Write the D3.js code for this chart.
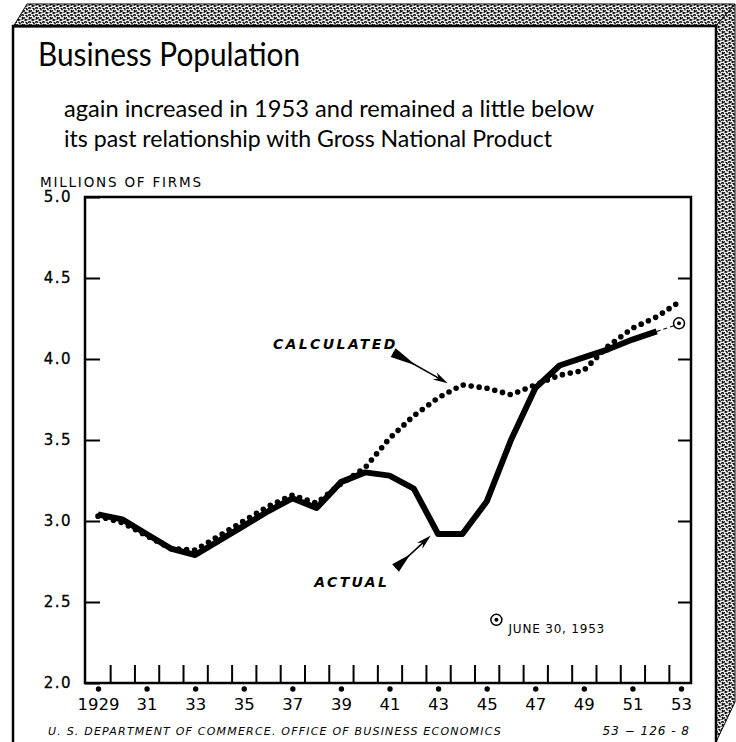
<!DOCTYPE html>
<html>
<head>
<meta charset="utf-8">
<script src="https://cdn.jsdelivr.net/npm/d3@7"></script>
<style>
  html, body { margin: 0; padding: 0; background: #fff; }
  svg { display: block; }
</style>
</head>
<body>
<div id="chart"></div>
<script>
// values (millions of firms)
const actualYears = [1929, 1930, 1931, 1932, 1933, 1934, 1935, 1936, 1937, 1938, 1939, 1940,
  1941, 1942, 1943, 1944, 1945, 1946, 1947, 1948, 1949, 1950, 1951, 1952];
const actualValues = [3.04, 3.01, 2.92, 2.83, 2.79, 2.88, 2.97, 3.06, 3.14, 3.08, 3.24, 3.30,
  3.28, 3.20, 2.92, 2.92, 3.12, 3.50, 3.82, 3.96, 4.01, 4.06, 4.12, 4.17];

const calcYears = [1929, 1930, 1931, 1932, 1933, 1934, 1935, 1936, 1937, 1938, 1939, 1940,
  1941, 1942, 1943, 1944, 1945, 1946, 1947, 1948, 1949, 1950, 1951, 1952, 1953];
const calcValues = [3.03, 2.99, 2.91, 2.83, 2.82, 2.91, 3.00, 3.09, 3.16, 3.11, 3.23, 3.33,
  3.51, 3.65, 3.76, 3.84, 3.82, 3.78, 3.84, 3.90, 3.93, 4.08, 4.19, 4.26, 4.36];

// June 30, 1953 estimate
const juneYear = 1953;
const juneValue = 4.22;

const yTickValues = [2.0, 2.5, 3.0, 3.5, 4.0, 4.5, 5.0];
const xLabelYears = [1929, 1931, 1933, 1935, 1937, 1939, 1941, 1943, 1945, 1947, 1949, 1951, 1953];
const xLabelText = ["1929", "31", "33", "35", "37", "39", "41", "43", "45", "47", "49", "51", "53"];

const actual = actualYears.map((yr, i) => ({ year: yr, value: actualValues[i] }));
const calculated = calcYears.map((yr, i) => ({ year: yr, value: calcValues[i] }));

const W = 736, H = 742;
const plot = { left: 85, right: 691, top: 197, bottom: 683 };

const x = d3.scaleLinear().domain([1929, 1953]).range([98, 681]);
const y = d3.scaleLinear().domain([2, 5]).range([plot.bottom, plot.top]);

const svg = d3.select("#chart").append("svg")
  .attr("width", W).attr("height", H)
  .attr("viewBox", [0, 0, W, H]);

// stipple texture for the box edges
const defs = svg.append("defs");
const pat = defs.append("pattern")
  .attr("id", "stipple")
  .attr("patternUnits", "userSpaceOnUse")
  .attr("width", 7).attr("height", 7);
pat.append("rect").attr("width", 7).attr("height", 7).attr("fill", "#fff");
pat.append("path")
  .attr("d", "M0,1.5 q1.5,-1.5 3,0 M4,5 q1,1.5 2.5,0.5 M0.5,5.5 l2,-1.2 M4.5,1 l2,1.3 M2.5,3.5 l1.5,0.6 M5.5,3.2 l1.2,-0.8 M1,3 l0.8,1.2 M3.5,6.5 l1.5,-0.5")
  .attr("fill", "none").attr("stroke", "#000").attr("stroke-width", 1.4);

const face = { left: 13, top: 26, right: 716 };
svg.append("path")
  .attr("d", `M${face.left},${face.top + 1}L${face.left + 14},4L735,4L${face.right},${face.top}Z`)
  .attr("fill", "url(#stipple)").attr("stroke", "#000").attr("stroke-width", 1);
svg.append("path")
  .attr("d", `M${face.right},${face.top}L735,4L735,702L${face.right},${H}Z`)
  .attr("fill", "url(#stipple)").attr("stroke", "#000").attr("stroke-width", 1);
svg.append("path")
  .attr("d", `M${face.left},${H}V${face.top}H${face.right}V${H}`)
  .attr("fill", "none").attr("stroke", "#000").attr("stroke-width", 2.5);

// titles
svg.append("text")
  .attr("x", 38).attr("y", 66)
  .attr("font-family", "Lato, sans-serif")
  .attr("font-size", 33)
  .attr("textLength", 262).attr("lengthAdjust", "spacingAndGlyphs")
  .text("Business Population");

const subFont = sel => sel
  .attr("font-family", "Lato, sans-serif")
  .attr("font-size", 23.5)
  .attr("lengthAdjust", "spacingAndGlyphs");
svg.append("text").call(subFont)
  .attr("x", 64).attr("y", 117).attr("textLength", 530)
  .text("again increased in 1953 and remained a little below");
svg.append("text").call(subFont)
  .attr("x", 64).attr("y", 147).attr("textLength", 488)
  .text("its past relationship with Gross National Product");

svg.append("text")
  .attr("x", 40).attr("y", 187)
  .attr("font-family", "DejaVu Sans, sans-serif")
  .attr("font-size", 13.5)
  .attr("letter-spacing", 1.8)
  .text("MILLIONS OF FIRMS");

// frame
svg.append("rect")
  .attr("x", plot.left).attr("y", plot.top)
  .attr("width", plot.right - plot.left).attr("height", plot.bottom - plot.top)
  .attr("fill", "none").attr("stroke", "#000").attr("stroke-width", 2.5);

// left axis: inward ticks, labels outside
const gLeft = svg.append("g")
  .attr("transform", `translate(${plot.left},0)`)
  .call(d3.axisLeft(y).tickValues(yTickValues).tickSize(-15).tickPadding(13)
    .tickFormat(d3.format(".1f")));
gLeft.select(".domain").remove();
gLeft.selectAll(".tick line").attr("stroke-width", 2);
gLeft.selectAll(".tick text")
  .attr("font-family", "DejaVu Sans, sans-serif")
  .attr("font-size", 15)
  .attr("letter-spacing", 1.5)
  .attr("stroke", "#000").attr("stroke-width", 0.3)
  .attr("fill", "#000");

const gRight = svg.append("g")
  .attr("transform", `translate(${plot.right},0)`)
  .call(d3.axisRight(y).tickValues(yTickValues.slice(1, -1)).tickSize(-13).tickFormat(""));
gRight.select(".domain").remove();
gRight.selectAll(".tick line").attr("stroke-width", 2);

// bottom: year ticks between the labelled years
const gTicks = svg.append("g")
  .attr("transform", `translate(0,${plot.bottom})`)
  .call(d3.axisBottom(x).tickValues(d3.range(1929.5, 1953, 1)).tickSize(-18).tickFormat(""));
gTicks.select(".domain").remove();
gTicks.selectAll(".tick line").attr("stroke-width", 2);

const gLabels = svg.append("g")
  .attr("transform", `translate(0,${plot.bottom})`)
  .call(d3.axisBottom(x).tickValues(xLabelYears).tickSize(0).tickPadding(15)
    .tickFormat((d, i) => xLabelText[i]));
gLabels.select(".domain").remove();
gLabels.selectAll(".tick text")
  .attr("font-family", "DejaVu Sans, sans-serif")
  .attr("font-size", 16.5)
  .attr("fill", "#000");
gLabels.selectAll(".tick").append("circle")
  .attr("cy", 6).attr("r", 2.7).attr("fill", "#000");

// series
const line = d3.line().x(d => x(d.year)).y(d => y(d.value));

svg.append("path")
  .datum(calculated)
  .attr("d", line)
  .attr("fill", "none")
  .attr("stroke", "#000")
  .attr("stroke-width", 5.6)
  .attr("stroke-linecap", "round")
  .attr("stroke-dasharray", "0 8");

svg.append("path")
  .datum(actual)
  .attr("d", line)
  .attr("fill", "none")
  .attr("stroke", "#000")
  .attr("stroke-width", 6)
  .attr("stroke-linejoin", "round");

const last = actual[actual.length - 1];
svg.append("path")
  .datum([last, { year: juneYear, value: juneValue }])
  .attr("d", line)
  .attr("fill", "none").attr("stroke", "#000")
  .attr("stroke-width", 1.2).attr("stroke-dasharray", "4 3");

function juneMark(g, cx, cy) {
  g.append("circle").attr("cx", cx).attr("cy", cy).attr("r", 5.5)
    .attr("fill", "#fff").attr("stroke", "#000").attr("stroke-width", 1.5);
  g.append("circle").attr("cx", cx).attr("cy", cy).attr("r", 2).attr("fill", "#000");
}
juneMark(svg, x(juneYear) - 2, y(juneValue));

// annotations (positioned in data space)
function arrow(tail, tip) {
  const x0 = x(tail[0]), y0 = y(tail[1]), x1 = x(tip[0]), y1 = y(tip[1]);
  const dx = x1 - x0, dy = y1 - y0, len = Math.hypot(dx, dy);
  const ux = dx / len, uy = dy / len, px = -uy, py = ux;
  const wedge = 0.42 * len, head = 15;
  const g = svg.append("g");
  g.append("path")
    .attr("d", `M${x0 + px * 5},${y0 + py * 5}L${x0 - px * 5},${y0 - py * 5}` +
      `L${x0 + ux * wedge},${y0 + uy * wedge}Z`)
    .attr("fill", "#000");
  g.append("line")
    .attr("x1", x0).attr("y1", y0)
    .attr("x2", x1 - ux * head * 0.6).attr("y2", y1 - uy * head * 0.6)
    .attr("stroke", "#000").attr("stroke-width", 1.6);
  const bx = x1 - ux * head, by = y1 - uy * head;
  g.append("path")
    .attr("d", `M${x1},${y1}L${bx + px * 4},${by + py * 4}L${x1 - ux * head * 0.7},${y1 - uy * head * 0.7}` +
      `L${bx - px * 4},${by - py * 4}Z`)
    .attr("fill", "#000");
}

const italic = sel => sel
  .attr("font-family", "DejaVu Sans, sans-serif")
  .attr("font-style", "italic")
  .attr("font-weight", "bold")
  .attr("fill", "#000");

svg.append("text")
  .attr("x", x(1936.2)).attr("y", y(4.06))
  .attr("font-size", 14).attr("letter-spacing", 2.4)
  .call(italic)
  .text("CALCULATED");
arrow([1941.15, 4.04], [1943.4, 3.85]);

svg.append("text")
  .attr("x", x(1937.9)).attr("y", y(2.59))
  .attr("font-size", 14).attr("letter-spacing", 2.4)
  .call(italic)
  .text("ACTUAL");
arrow([1941.25, 2.71], [1942.7, 2.91]);

juneMark(svg, x(1945.4), y(2.39));
svg.append("text")
  .attr("x", x(1945.9)).attr("y", y(2.31))
  .attr("font-family", "DejaVu Sans, sans-serif")
  .attr("font-size", 12).attr("letter-spacing", 0.8)
  .text("JUNE 30, 1953");

// footer
svg.append("text")
  .attr("x", 48).attr("y", 735)
  .attr("font-family", "DejaVu Sans, sans-serif")
  .attr("font-style", "italic")
  .attr("font-size", 11).attr("letter-spacing", 1.2)
  .text("U. S. DEPARTMENT OF COMMERCE. OFFICE OF BUSINESS ECONOMICS");
svg.append("text")
  .attr("x", 690).attr("y", 735)
  .attr("text-anchor", "end")
  .attr("font-family", "DejaVu Sans, sans-serif")
  .attr("font-style", "italic")
  .attr("font-size", 12).attr("letter-spacing", 1)
  .text("53 − 126 - 8");
</script>
</body>
</html>
